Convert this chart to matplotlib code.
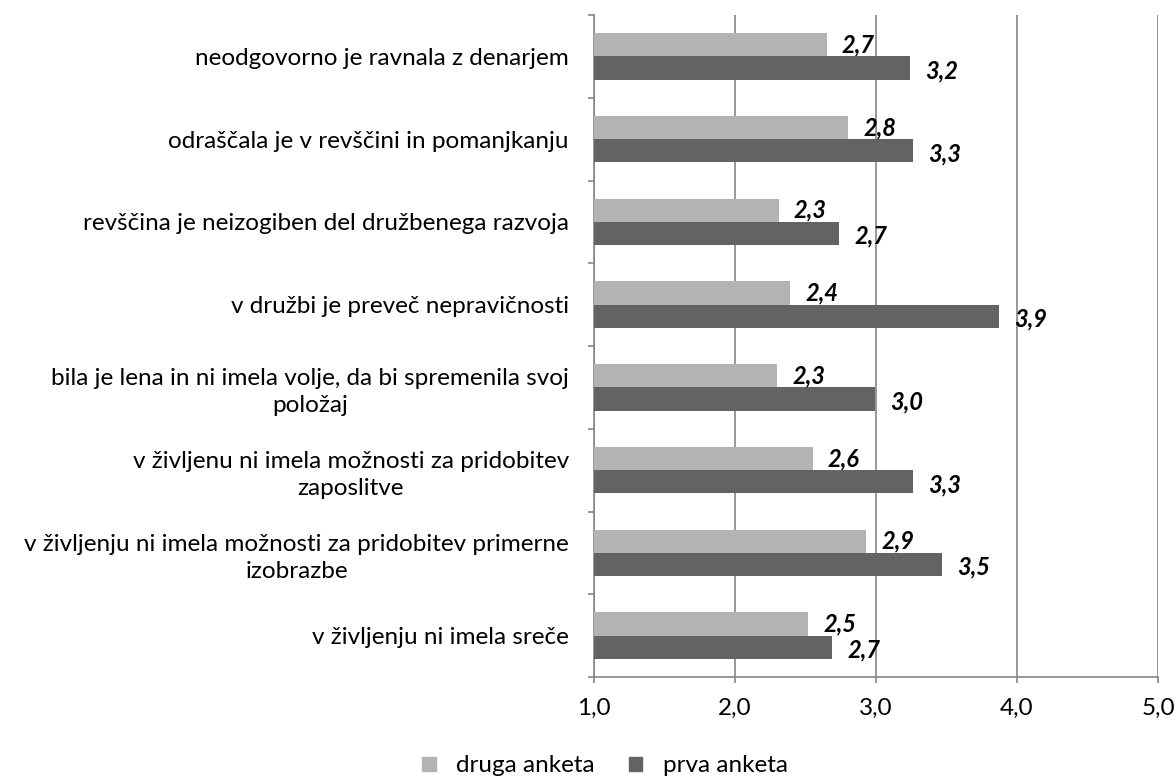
import numpy as np
import matplotlib.pyplot as plt
from matplotlib.patches import Patch

# podatki (povprecne ocene)
categories = [
    'neodgovorno je ravnala z denarjem',
    'odraščala je v revščini in pomanjkanju',
    'revščina je neizogiben del družbenega razvoja',
    'v družbi je preveč nepravičnosti',
    'bila je lena in ni imela volje, da bi spremenila svoj\npoložaj',
    'v življenu ni imela možnosti za pridobitev\nzaposlitve',
    'v življenju ni imela možnosti za pridobitev primerne\nizobrazbe',
    'v življenju ni imela sreče',
]
druga = [2.65, 2.80, 2.31, 2.39, 2.30, 2.55, 2.93, 2.52]
prva = [3.24, 3.26, 2.74, 3.87, 2.99, 3.26, 3.47, 2.69]
druga_lbl = ['2,7', '2,8', '2,3', '2,4', '2,3', '2,6', '2,9', '2,5']
prva_lbl = ['3,2', '3,3', '2,7', '3,9', '3,0', '3,3', '3,5', '2,7']
xticks = [1, 2, 3, 4, 5]
xtick_lbl = ['1,0', '2,0', '3,0', '4,0', '5,0']

plt.rcParams['font.family'] = ['Lato', 'DejaVu Sans']

c_druga = '#b3b3b3'
c_prva = '#636363'
c_grid = '#868686'
fs = 17.5

fig = plt.figure(figsize=(11.76, 7.8), dpi=100)
ax = fig.add_axes([594 / 1176, 1 - 677 / 780, (1158 - 594) / 1176, (677 - 15) / 780])

n = len(categories)
y = np.arange(n)
h = 0.28

ax.barh(y - h / 2, np.array(druga) - 1, left=1, height=h, color=c_druga, zorder=3)
ax.barh(y + h / 2, np.array(prva) - 1, left=1, height=h, color=c_prva, zorder=3)

for i in range(n):
    ax.annotate(druga_lbl[i], (druga[i], y[i] - h / 2), xytext=(11, 0), textcoords='offset points',
                va='center', ha='left', fontsize=17, fontweight='bold', style='italic', zorder=4)
    ax.annotate(prva_lbl[i], (prva[i], y[i] + h / 2), xytext=(11, -2), textcoords='offset points',
                va='center', ha='left', fontsize=17, fontweight='bold', style='italic', zorder=4)

ax.set_xlim(1, 5)
ax.set_ylim(n - 0.5, -0.5)
ax.set_xticks(xticks)
ax.set_xticklabels(xtick_lbl, fontsize=fs)

# oznake kategorij
ax.set_yticks(y)
ax.set_yticklabels(categories, fontsize=fs, multialignment='center', linespacing=1.35)
ax.tick_params(axis='y', length=0, pad=18)
ax.set_yticks(np.arange(n + 1) - 0.5, minor=True)
ax.tick_params(axis='y', which='minor', length=4.3, color=c_grid, width=1.2)
ax.tick_params(axis='x', length=4.3, color=c_grid, width=1.2, pad=11)

ax.grid(axis='x', color=c_grid, linewidth=1.2, zorder=0)
for s in ['top', 'right']:
    ax.spines[s].set_visible(False)
for s in ['left', 'bottom']:
    ax.spines[s].set_color(c_grid)
    ax.spines[s].set_linewidth(1.2)

handles = [Patch(color=c_druga, label='druga anketa'), Patch(color=c_prva, label='prva anketa')]
fig.legend(handles=handles, loc='center', bbox_to_anchor=(605 / 1176, 1 - 766 / 780), ncol=2,
           frameon=False, fontsize=fs, handlelength=0.55, handleheight=0.55, handletextpad=0.85,
           columnspacing=1.4, borderpad=0, borderaxespad=0)

fig.savefig('out.png', dpi=100)
